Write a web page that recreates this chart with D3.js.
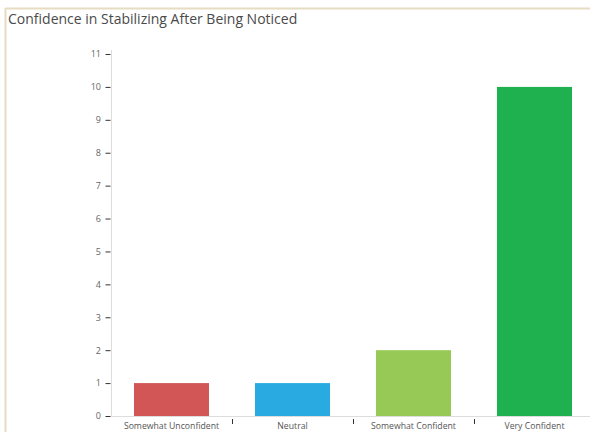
<!DOCTYPE html>
<html>
<head>
<meta charset="utf-8">
<script src="https://cdn.jsdelivr.net/npm/d3@7"></script>
<style>
  html, body { margin: 0; padding: 0; background: #fff; }
  svg { display: block; font-family: "Open Sans", "Noto Sans", sans-serif; }
</style>
</head>
<body>
<svg id="chart" width="590" height="432"></svg>
<script>
const title = "Confidence in Stabilizing After Being Noticed";
const categories = ["Somewhat Unconfident", "Neutral", "Somewhat Confident", "Very Confident"];
const counts = [1, 1, 2, 10];
const barColors = ["#d35656", "#29abe2", "#96c955", "#1fb14f"];
const yTicks = [0, 1, 2, 3, 4, 5, 6, 7, 8, 9, 10, 11];

const svg = d3.select("#chart");

// panel frame (top and left edges)
svg.append("line").attr("x1", 5.5).attr("x2", 590).attr("y1", 8.5).attr("y2", 8.5)
  .attr("stroke", "#e6dcc2").attr("stroke-width", 2);
svg.append("line").attr("x1", 5.5).attr("x2", 5.5).attr("y1", 8).attr("y2", 432)
  .attr("stroke", "#e6dcc2").attr("stroke-width", 2);

svg.append("text").attr("x", 8).attr("y", 24)
  .attr("font-size", 14).attr("fill", "#4a4a4a").text(title);

const x = d3.scaleBand().domain(categories).range([111, 595]).paddingInner(0.38).paddingOuter(0.19);
const y = d3.scaleLinear().domain([0, 11]).range([416, 54]);

// bars
svg.append("g").selectAll("rect").data(categories).join("rect")
  .attr("x", d => x(d))
  .attr("width", x.bandwidth())
  .attr("y", (d, i) => y(counts[i]))
  .attr("height", (d, i) => y(0) - y(counts[i]))
  .attr("fill", (d, i) => barColors[i]);

// y axis
const yAxis = svg.append("g").attr("transform", "translate(111,0)")
  .call(d3.axisLeft(y).tickValues(yTicks).tickSize(5).tickPadding(5).tickFormat(d3.format("d")));
yAxis.select(".domain").attr("stroke", "#dddddd").attr("d", "M0.5,50V416.5");
yAxis.selectAll(".tick line").attr("stroke", "#333").attr("transform", "translate(-0.5,0)");
yAxis.selectAll(".tick text").attr("fill", "#666").attr("font-size", 9)
  .attr("font-family", "Open Sans, sans-serif");

// x axis
const xAxis = svg.append("g").attr("transform", "translate(0,416)")
  .call(d3.axisBottom(x).tickSize(0).tickPadding(7));
xAxis.select(".domain").attr("stroke", "#dddddd").attr("d", "M111,0.5H590");
xAxis.selectAll(".tick text").attr("fill", "#555").attr("font-size", 8.7)
  .attr("font-family", "Open Sans, sans-serif");

// separators between category bands
const bounds = categories.slice(1).map(c => x(c) - x.step() * x.paddingInner() / 2);
svg.append("g").selectAll("line").data(bounds).join("line")
  .attr("x1", d => Math.round(d) + 0.5).attr("x2", d => Math.round(d) + 0.5)
  .attr("y1", 419).attr("y2", 424)
  .attr("stroke", "#333");
</script>
</body>
</html>
